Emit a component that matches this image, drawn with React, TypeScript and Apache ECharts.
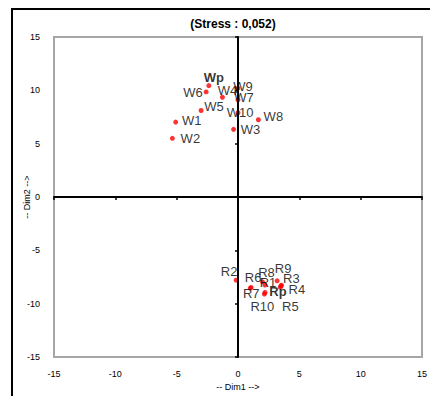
import React, { useEffect, useRef } from "react";
import * as echarts from "echarts";

const FONT = "'Liberation Sans', Arial, sans-serif";

const title = "(Stress : 0,052)";
const xAxisName = "-- Dim1 -->";
const yAxisName = "-- Dim2 -->";
const axisMin = -15;
const axisMax = 15;
const axisStep = 5;

const wNames = ["W1", "W2", "W3", "W4", "W5", "W6", "W7", "W8", "W9", "W10", "Wp"];
const wX = [-5.08, -5.35, -0.36, -1.27, -3.01, -2.6, 0.0, 1.66, 0.0, 0.0, -2.38];
const wY = [7.02, 5.5, 6.34, 9.35, 8.11, 9.85, 9.1, 7.24, 10.2, 7.9, 10.44];
const wLabelOffsets = [
  [16, -2], [18, 0], [17, 0], [5, -7], [13, -4], [-13, 1], [6, -2], [15, -3], [5, -2], [2, 0], [5, -8],
];

const rNames = ["R1", "R2", "R3", "R4", "R5", "R6", "R7", "R8", "R9", "R10", "Rp"];
const rX = [2.2, -0.15, 3.54, 3.5, 3.45, 1.07, 1.0, 2.0, 3.19, 2.15, 2.2];
const rY = [-8.25, -7.8, -8.27, -8.35, -8.45, -8.48, -8.55, -7.95, -7.86, -9.1, -8.95];
const rLabelOffsets = [
  [3, -3], [-7, -9], [10, -7], [16, 3], [10, 19], [2, -10], [1, 5], [4, -9], [6, -12], [-2, 12], [13, -1],
];

const boldNames = ["Wp", "Rp"];

function buildData(names: string[], xs: number[], ys: number[], offsets: number[][]) {
  return names.map((n, i) => ({
    name: n,
    value: [xs[i], ys[i]],
    label: {
      offset: offsets[i],
      fontWeight: boldNames.includes(n) ? "bold" : "normal",
    },
  }));
}

export default function App() {
  const ref = useRef<HTMLDivElement>(null);
  useEffect(() => {
    if (!ref.current) return;
    const chart = echarts.init(ref.current, undefined, { renderer: "svg" });
    const labelAxisCommon = {
      type: "value",
      min: axisMin,
      max: axisMax,
      interval: axisStep,
      splitLine: { show: false },
      axisTick: { show: false },
      nameMoveOverlap: false,
    };
    const zeroAxisCommon = {
      type: "value",
      min: axisMin,
      max: axisMax,
      interval: axisStep,
      splitLine: { show: false },
      axisLabel: { show: false },
      axisTick: { show: true, length: 3, lineStyle: { color: "#000", width: 1.5 } },
      axisLine: { show: true, onZero: true, lineStyle: { color: "#000", width: 2 } },
      z: 5,
    };
    chart.setOption({
      animation: false,
      backgroundColor: "#fff",
      title: {
        text: title,
        left: 228,
        top: 13,
        textAlign: "center",
        textStyle: { fontFamily: FONT, fontSize: 12, fontWeight: "bold", color: "#000" },
      },
      graphic: [
        {
          type: "line",
          shape: { x1: 11, y1: 9, x2: 430, y2: 9 },
          style: { stroke: "#000", lineWidth: 2 },
          silent: true,
          z: 10,
        },
        {
          type: "line",
          shape: { x1: 12, y1: 8, x2: 12, y2: 396 },
          style: { stroke: "#000", lineWidth: 2 },
          silent: true,
          z: 10,
        },
      ],
      grid: {
        left: 54,
        top: 37,
        width: 371,
        height: 322,
        show: true,
        borderColor: "#a6a6a6",
        borderWidth: 2,
        backgroundColor: "transparent",
      },
      xAxis: [
        {
          ...labelAxisCommon,
          position: "bottom",
          axisLine: { show: false, onZero: false },
          axisLabel: { fontFamily: FONT, fontSize: 9, color: "#000", margin: 12 },
          name: xAxisName,
          nameLocation: "middle",
          nameGap: 25,
          nameTextStyle: { fontFamily: FONT, fontSize: 9, color: "#000" },
        },
        { ...zeroAxisCommon, position: "bottom" },
      ],
      yAxis: [
        {
          ...labelAxisCommon,
          position: "left",
          axisLine: { show: false, onZero: false },
          axisLabel: { fontFamily: FONT, fontSize: 9, color: "#000", margin: 14 },
          name: yAxisName,
          nameLocation: "middle",
          nameGap: 23,
          nameTextStyle: { fontFamily: FONT, fontSize: 9, color: "#000" },
        },
        { ...zeroAxisCommon, position: "left" },
      ],
      series: [
        {
          type: "scatter",
          xAxisIndex: 0,
          yAxisIndex: 0,
          symbol: "circle",
          symbolSize: 5,
          itemStyle: { color: "#ff0000" },
          label: {
            show: true,
            position: "inside",
            formatter: "{b}",
            fontFamily: FONT,
            fontSize: 13,
            color: "#000",
          },
          data: [
            ...buildData(wNames, wX, wY, wLabelOffsets),
            ...buildData(rNames, rX, rY, rLabelOffsets),
          ],
        },
      ],
    });
    return () => chart.dispose();
  }, []);
  return (
    <div
      ref={ref}
      style={{ position: "absolute", left: 0, top: 0, width: 430, height: 396 }}
    />
  );
}
